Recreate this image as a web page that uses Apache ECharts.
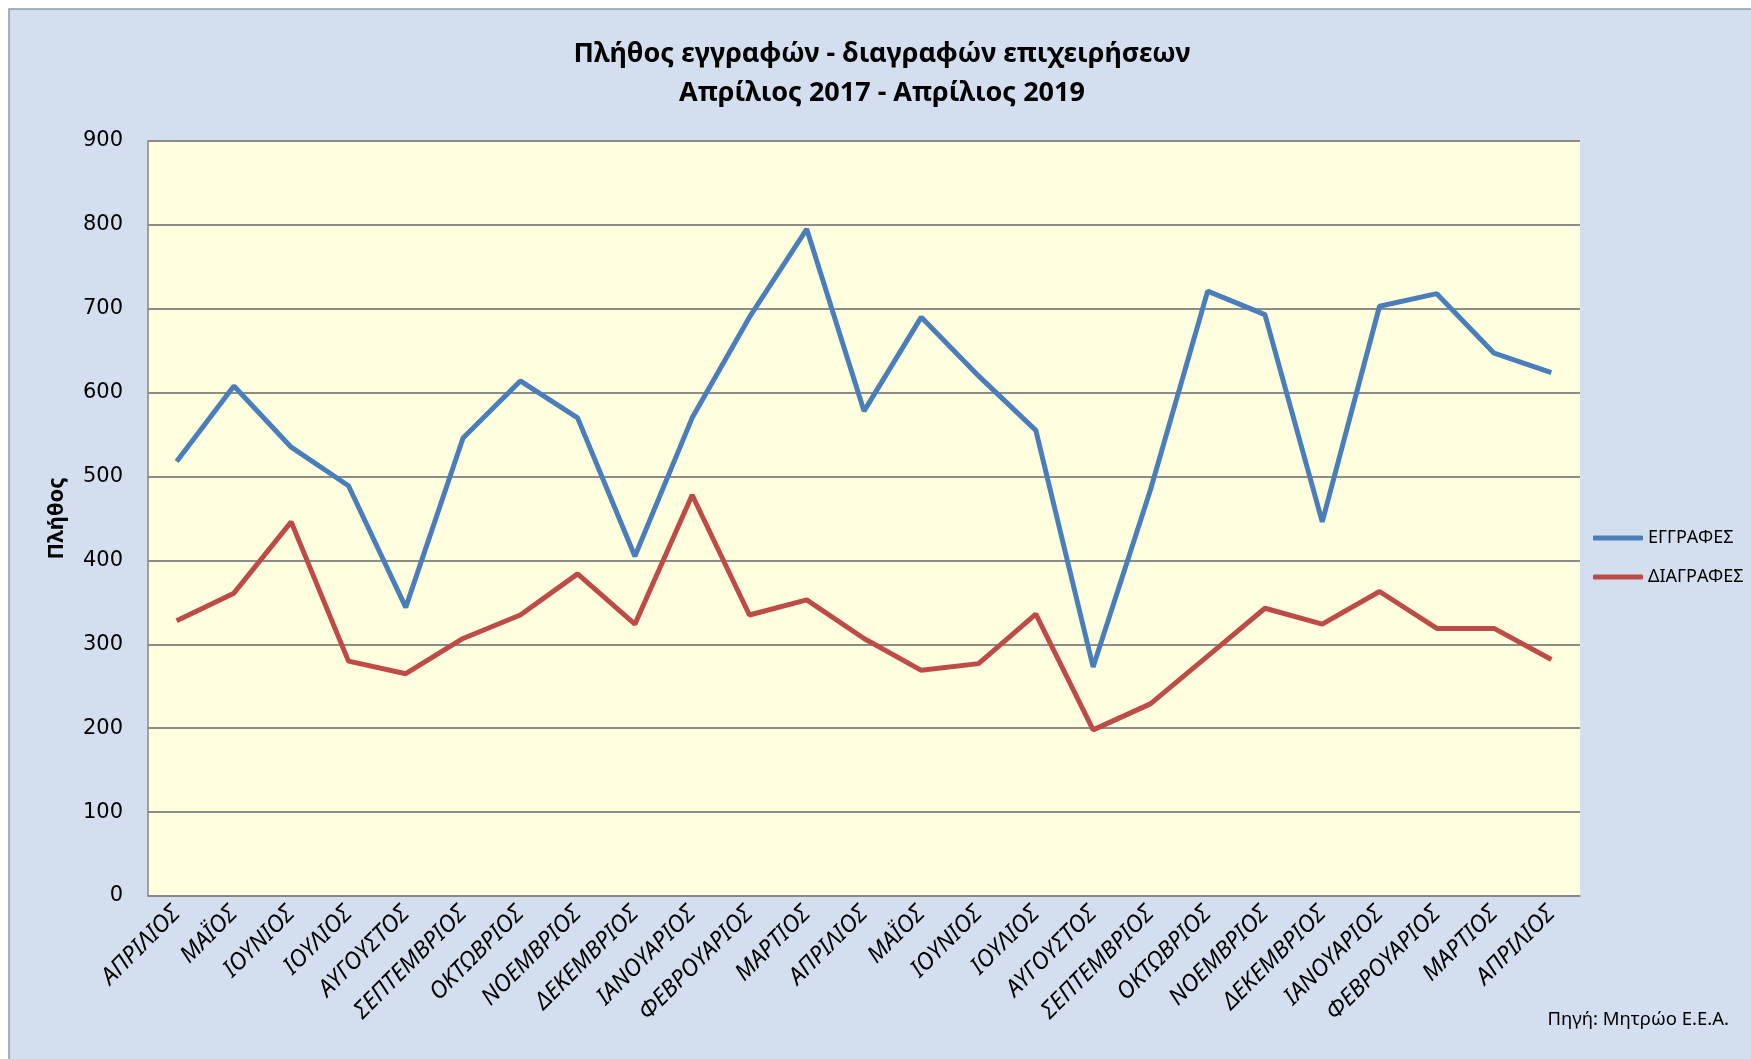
<!DOCTYPE html>
<html lang="el">
<head>
    <meta charset="UTF-8">
    <title>Πλήθος εγγραφών - διαγραφών επιχειρήσεων</title>
    <script src="https://cdn.jsdelivr.net/npm/echarts@6.0.0/dist/echarts.min.js"></script>
    <style>
        html, body { margin: 0; padding: 0; background: #ffffff; }
        #box1 { width: 1751px; height: 1059px; }
    </style>
</head>
<body>
<div id="box1"></div>
<script>
    // μήνες Απρίλιος 2017 - Απρίλιος 2019
    var months = ['ΑΠΡΙΛΙΟΣ', 'ΜΑΪΟΣ', 'ΙΟΥΝΙΟΣ', 'ΙΟΥΛΙΟΣ', 'ΑΥΓΟΥΣΤΟΣ', 'ΣΕΠΤΕΜΒΡΙΟΣ', 'ΟΚΤΩΒΡΙΟΣ',
        'ΝΟΕΜΒΡΙΟΣ', 'ΔΕΚΕΜΒΡΙΟΣ', 'ΙΑΝΟΥΑΡΙΟΣ', 'ΦΕΒΡΟΥΑΡΙΟΣ', 'ΜΑΡΤΙΟΣ', 'ΑΠΡΙΛΙΟΣ',
        'ΜΑΪΟΣ', 'ΙΟΥΝΙΟΣ', 'ΙΟΥΛΙΟΣ', 'ΑΥΓΟΥΣΤΟΣ', 'ΣΕΠΤΕΜΒΡΙΟΣ', 'ΟΚΤΩΒΡΙΟΣ',
        'ΝΟΕΜΒΡΙΟΣ', 'ΔΕΚΕΜΒΡΙΟΣ', 'ΙΑΝΟΥΑΡΙΟΣ', 'ΦΕΒΡΟΥΑΡΙΟΣ', 'ΜΑΡΤΙΟΣ', 'ΑΠΡΙΛΙΟΣ'];
    var eggrafes = [518, 608, 535, 489, 344, 546, 614, 570, 405, 570, 690, 795, 578,
        690, 620, 555, 273, 484, 721, 693, 446, 703, 718, 647, 624];
    var diagrafes = [328, 361, 446, 280, 265, 307, 335, 384, 324, 478, 335, 353, 307,
        269, 277, 336, 198, 229, 286, 343, 324, 363, 319, 319, 282];
    var yTicks = { min: 0, max: 900, interval: 100 };

    var mycharts1 = echarts.init(document.getElementById('box1'));
    var option = {
        backgroundColor: '#ffffff',
        animation: false,
        graphic: [{
            type: 'rect',
            z: -10,
            shape: { x: 9, y: 9, width: 1800, height: 1100 },
            style: { fill: '#D3DFEE', stroke: '#8E9AAA', lineWidth: 1.5 }
        }, {
            type: 'text',
            right: 22,
            top: 1010,
            style: { text: 'Πηγή: Μητρώο Ε.Ε.Α.', fontFamily: 'Noto Sans', fontSize: 18.5, fill: '#000000' }
        }],
        title: {
            text: 'Πλήθος εγγραφών - διαγραφών επιχειρήσεων\nΑπρίλιος 2017 - Απρίλιος 2019',
            left: 877,
            top: 30,
            textAlign: 'center',
            textStyle: {
                fontFamily: 'Noto Sans',
                fontSize: 27,
                fontWeight: 'bold',
                color: '#000000',
                lineHeight: 39
            }
        },
        legend: {
            orient: 'vertical',
            left: 1588,
            top: 524,
            itemWidth: 50,
            itemHeight: 5,
            itemGap: 21,
            icon: 'roundRect',
            textStyle: { fontFamily: 'Noto Sans', fontSize: 18, color: '#000000' },
            data: ['ΕΓΓΡΑΦΕΣ', 'ΔΙΑΓΡΑΦΕΣ']
        },
        grid: {
            left: 148,
            right: 171,
            top: 141,
            bottom: 163,
            show: true,
            backgroundColor: '#FFFFE0',
            borderWidth: 0
        },
        xAxis: {
            type: 'category',
            data: months,
            boundaryGap: true,
            axisLine: { lineStyle: { color: '#868686', width: 1.5 } },
            axisTick: { show: false },
            axisLabel: {
                rotate: 45,
                interval: 0,
                margin: 14,
                fontFamily: 'Noto Sans',
                fontStyle: 'italic',
                fontSize: 23.5,
                color: '#000000'
            }
        },
        yAxis: {
            type: 'value',
            min: yTicks.min,
            max: yTicks.max,
            interval: yTicks.interval,
            name: 'Πλήθος',
            nameLocation: 'middle',
            nameGap: 80,
            nameTextStyle: { fontFamily: 'Noto Sans', fontSize: 22, fontWeight: 'bold', color: '#000000' },
            axisLine: { show: true, lineStyle: { color: '#868686', width: 1.5 } },
            axisTick: { show: false },
            axisLabel: { margin: 25, fontFamily: 'DejaVu Sans', fontSize: 21, color: '#000000' },
            splitLine: { lineStyle: { color: '#8C8C8C', width: 1.8 } }
        },
        series: [{
            name: 'ΕΓΓΡΑΦΕΣ',
            type: 'line',
            data: eggrafes,
            symbol: 'none',
            lineStyle: { color: '#4A7EBB', width: 5 },
            itemStyle: { color: '#4A7EBB' }
        }, {
            name: 'ΔΙΑΓΡΑΦΕΣ',
            type: 'line',
            data: diagrafes,
            symbol: 'none',
            lineStyle: { color: '#BE4B48', width: 5 },
            itemStyle: { color: '#BE4B48' }
        }]
    };
    mycharts1.setOption(option);
</script>
</body>
</html>
